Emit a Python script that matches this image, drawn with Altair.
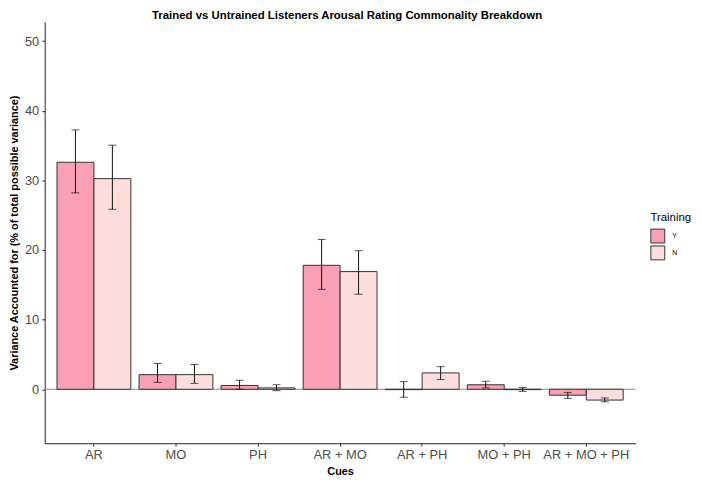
import altair as alt
import pandas as pd

cues = ["AR", "MO", "PH", "AR + MO", "AR + PH", "MO + PH", "AR + MO + PH"]
trained_vals = [32.6, 2.1, 0.55, 17.8, -0.05, 0.65, -0.85]
trained_lo = [28.2, 1.0, 0.0, 14.35, -1.15, 0.2, -1.3]
trained_hi = [37.25, 3.7, 1.3, 21.5, 1.1, 1.15, -0.45]
untrained_vals = [30.25, 2.1, 0.2, 16.9, 2.35, -0.05, -1.55]
untrained_lo = [25.85, 0.85, -0.2, 13.65, 1.4, -0.3, -1.8]
untrained_hi = [35.05, 3.55, 0.65, 19.9, 3.25, 0.25, -1.25]
groups = ["Y", "N"]
colors = ["#F9A0B7", "#FDDEDD"]
y_ticks = [0, 10, 20, 30, 40, 50]

rows = []
for i, c in enumerate(cues):
    rows.append({"Cues": c, "Training": "Y", "v": trained_vals[i], "lo": trained_lo[i], "hi": trained_hi[i]})
    rows.append({"Cues": c, "Training": "N", "v": untrained_vals[i], "lo": untrained_lo[i], "hi": untrained_hi[i]})
df = pd.DataFrame(rows)

FONT = "Liberation Sans"

x_enc = alt.X("Cues:N", sort=cues, title="Cues",
              scale=alt.Scale(paddingInner=0.1, paddingOuter=0.15),
              axis=alt.Axis(labelAngle=0, labelFontSize=13, labelColor="#4D4D4D",
                            labelFont=FONT, titleFont=FONT, titleFontSize=11,
                            titleFontWeight="bold", titleColor="black",
                            domainColor="#222222", tickColor="#333333",
                            tickSize=3, labelPadding=2, titlePadding=5))
y_scale = alt.Scale(domain=[-7.75, 52.75], nice=False, zero=False)
xoff = alt.XOffset("Training:N", sort=groups, scale=alt.Scale(paddingInner=0, paddingOuter=0))

base = alt.Chart(df)

zero_line = alt.Chart(pd.DataFrame({"z": [0]})).mark_rule(color="#8A8A8A", strokeWidth=1.2).encode(
    y=alt.Y("z:Q", scale=y_scale)
)

bars = base.mark_bar(stroke="#333333", strokeWidth=1).encode(
    x=x_enc,
    xOffset=xoff,
    y=alt.Y("v:Q", scale=y_scale, title="Variance Accounted for (% of total possible variance)",
            axis=alt.Axis(values=y_ticks, grid=False, labelFontSize=13, labelColor="#4D4D4D",
                          labelFont=FONT, titleFont=FONT, titleFontSize=11,
                          titleFontWeight="bold", titleColor="black",
                          domainColor="#222222", tickColor="#333333", tickSize=3,
                          labelPadding=3, titlePadding=5)),
    y2=alt.Y2(datum=0),
    color=alt.Color("Training:N", sort=groups,
                    scale=alt.Scale(domain=groups, range=colors),
                    legend=alt.Legend(title="Training", orient="none", legendX=611, legendY=192,
                                      titleFontSize=11.5, titleFontWeight="normal", titleFont=FONT,
                                      titleColor="black", labelFontSize=7, labelFont=FONT,
                                      symbolType="square", symbolSize=196, symbolStrokeColor="#333333",
                                      symbolStrokeWidth=1, symbolOpacity=1,
                                      rowPadding=-4, labelOffset=7, titlePadding=5)),
)

err = base.mark_rule(color="#111111", strokeWidth=1).encode(
    x=alt.X("Cues:N", sort=cues),
    xOffset=xoff,
    y=alt.Y("lo:Q", scale=y_scale),
    y2="hi:Q",
)
cap_lo = base.mark_tick(color="#111111", thickness=1, size=8, orient="horizontal").encode(
    x=alt.X("Cues:N", sort=cues),
    xOffset=xoff,
    y=alt.Y("lo:Q", scale=y_scale),
)
cap_hi = base.mark_tick(color="#111111", thickness=1, size=8, orient="horizontal").encode(
    x=alt.X("Cues:N", sort=cues),
    xOffset=xoff,
    y=alt.Y("hi:Q", scale=y_scale),
)

chart = alt.layer(zero_line, bars, err, cap_lo, cap_hi).properties(
    width=596, height=425,
    title=alt.Title("Trained vs Untrained Listeners Arousal Rating Commonality Breakdown",
                    fontSize=11.5, fontWeight="bold", font=FONT, anchor="middle", offset=0, dx=7),
    autosize=alt.AutoSizeParams(type="none"),
    padding={"left": 37, "top": 12, "right": 59, "bottom": 33},
).configure_view(stroke=None).configure_axisX(domainWidth=1).configure_axisY(domainWidth=1)

chart.save("out.html", embed_options={"renderer": "svg", "actions": False})
